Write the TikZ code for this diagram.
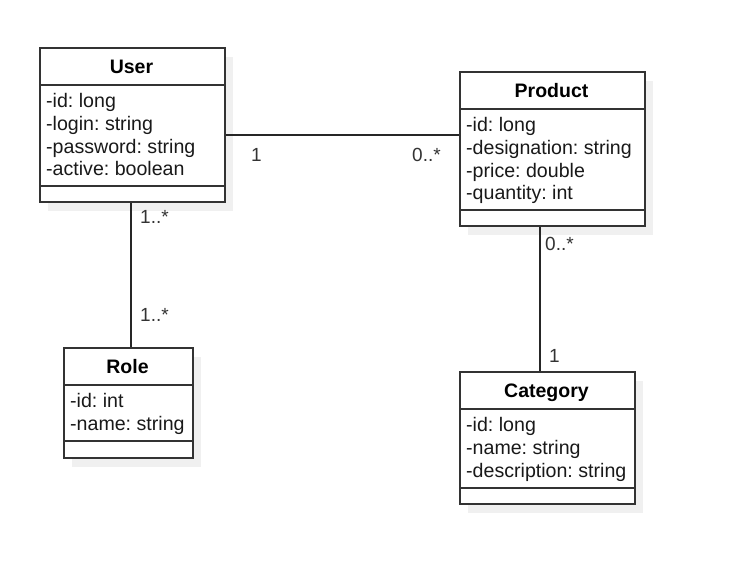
\documentclass[tikz,border=0pt]{standalone}
\usepackage{fontspec}
\setmainfont{Liberation Sans}
\frenchspacing
\begin{document}
\begin{tikzpicture}[x=1pt,y=-1pt,
  box/.style={draw=black!80,line width=1.6pt,fill=white,inner sep=0pt,anchor=north west},
  sep/.style={draw=black!80,line width=1.4pt},
  conn/.style={draw=black!85,line width=1.4pt},
  ttl/.style={font=\fontsize{19.5}{22.7}\selectfont\bfseries,anchor=base,inner sep=0pt},
  attr/.style={font=\fontsize{19.6}{22.7}\selectfont,anchor=base west,inner sep=0pt,text=black!90},
  mult/.style={font=\fontsize{19}{22}\selectfont,anchor=base west,inner sep=0pt,text=black!80}]
\useasboundingbox[fill=white] (0,0) rectangle (729,566);
% shadows
\fill[black!6] (48,57) rectangle (233,211);
\fill[black!6] (468,81) rectangle (653,235);
\fill[black!6] (72,357) rectangle (201,467);
\fill[black!6] (468,381) rectangle (643,513);
% User
\node[box,minimum width=185pt,minimum height=154pt] (user) at (39,47) {};
\draw[sep] (39,85) -- (224,85);
\draw[sep] (39,186) -- (224,186);
\node[ttl] (userT) at (131.5,73) {User};
\node[attr] (u1) at (46,107) {-id: long};
\node[attr] (u2) at (46,130) {-login: string};
\node[attr] (u3) at (46,153) {-password: string};
\node[attr] (u4) at (46,175) {-active: boolean};
% Product
\node[box,minimum width=185pt,minimum height=154pt] (product) at (459,71) {};
\draw[sep] (459,109) -- (644,109);
\draw[sep] (459,210) -- (644,210);
\node[ttl] (productT) at (551.5,97) {Product};
\node[attr] (p1) at (466,131) {-id: long};
\node[attr] (p2) at (466,154) {-designation: string};
\node[attr] (p3) at (466,177) {-price: double};
\node[attr] (p4) at (466,199) {-quantity: int};
% Role
\node[box,minimum width=129pt,minimum height=110pt] (role) at (63,347) {};
\draw[sep] (63,385) -- (192,385);
\draw[sep] (63,441) -- (192,441);
\node[ttl] (roleT) at (127.5,373) {Role};
\node[attr] (r1) at (70,407) {-id: int};
\node[attr] (r2) at (70,430) {-name: string};
% Category
\node[box,minimum width=175pt,minimum height=132pt] (category) at (459,371) {};
\draw[sep] (459,409) -- (634,409);
\draw[sep] (459,488) -- (634,488);
\node[ttl] (categoryT) at (546.5,397) {Category};
\node[attr] (c1) at (466,431) {-id: long};
\node[attr] (c2) at (466,454) {-name: string};
\node[attr] (c3) at (466,477) {-description: string};
% connectors
\coordinate (upy) at (0,135);
\coordinate (urx) at (131,0);
\coordinate (pcx) at (540,0);
\draw[conn] (user.east |- upy) -- (product.west |- upy);
\draw[conn] (user.south -| urx) -- (role.north -| urx);
\draw[conn] (product.south -| pcx) -- (category.north -| pcx);
% multiplicities
\node[mult] (m1) at (251,161) {1};
\node[mult] (m2) at (412,161) {0..*};
\node[mult] (m3) at (140,223) {1..*};
\node[mult] (m4) at (140,321) {1..*};
\node[mult] (m5) at (545,250) {0..*};
\node[mult] (m6) at (549,362) {1};
\end{tikzpicture}
\end{document}
